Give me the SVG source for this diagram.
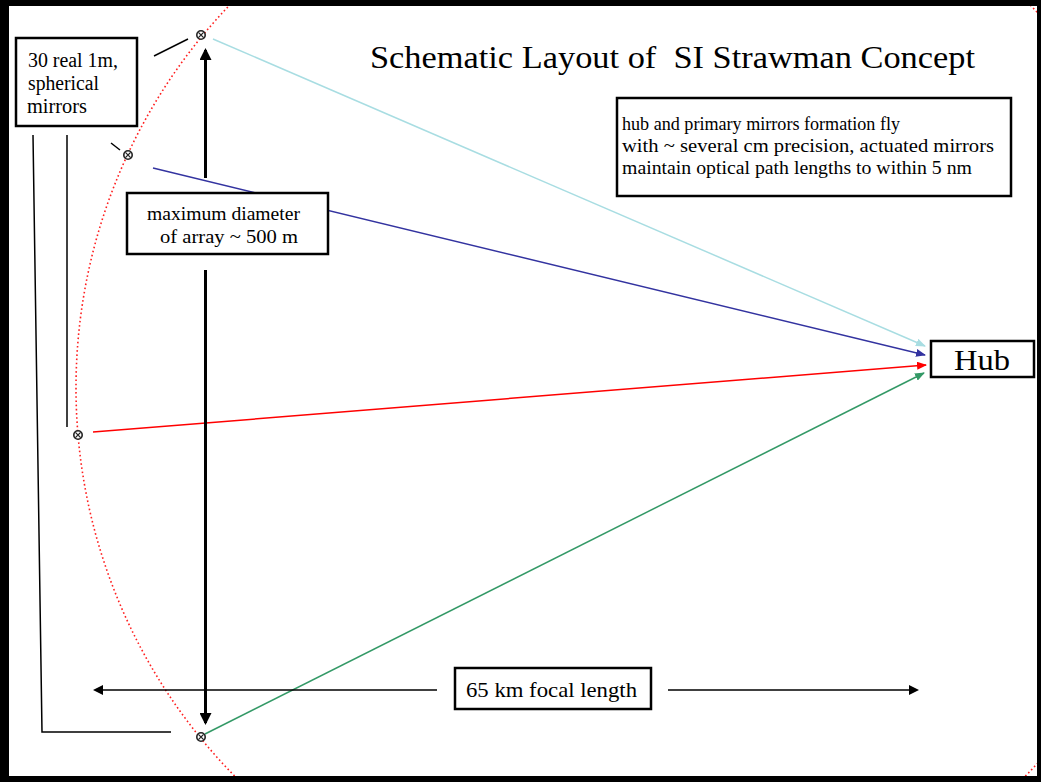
<svg xmlns="http://www.w3.org/2000/svg" width="1041" height="782" viewBox="0 0 1041 782">
<style>
.t{font-family:"Liberation Serif","Times New Roman",serif;fill:#000}
.box{fill:#fff;stroke:#000;stroke-width:2.5}
.thin{stroke:#000;stroke-width:1.5;fill:none}
.mir{fill:#fff;stroke:#222;stroke-width:1.6}
</style>
<defs>
<clipPath id="frame"><rect x="9" y="6" width="1028" height="770"/></clipPath>
<marker id="aK" markerWidth="10" markerHeight="10" refX="8" refY="5" orient="auto" markerUnits="userSpaceOnUse"><path d="M0,0 L10,5 L0,10 z" fill="#000"/></marker>
<marker id="aKb" markerWidth="12" markerHeight="12" refX="10" refY="6" orient="auto" markerUnits="userSpaceOnUse"><path d="M0,0 L12,6 L0,12 z" fill="#000"/></marker>
<marker id="aL" markerWidth="10" markerHeight="8" refX="9" refY="4" orient="auto" markerUnits="userSpaceOnUse"><path d="M0,0 L10,4 L0,8 z" fill="#a8dde2"/></marker>
<marker id="aB" markerWidth="10" markerHeight="8" refX="9" refY="4" orient="auto" markerUnits="userSpaceOnUse"><path d="M0,0 L10,4 L0,8 z" fill="#3333a0"/></marker>
<marker id="aR" markerWidth="10" markerHeight="8" refX="9" refY="4" orient="auto" markerUnits="userSpaceOnUse"><path d="M0,0 L10,4 L0,8 z" fill="#ff0000"/></marker>
<marker id="aG" markerWidth="10" markerHeight="8" refX="9" refY="4" orient="auto" markerUnits="userSpaceOnUse"><path d="M0,0 L10,4 L0,8 z" fill="#339966"/></marker>
<g id="mk"><circle r="4.2" class="mir"/><path d="M-2.6,-2.6 L2.6,2.6 M-2.6,2.6 L2.6,-2.6" stroke="#222" stroke-width="1.3"/></g>
</defs>
<rect x="0" y="0" width="1041" height="782" fill="#000"/>
<rect x="9" y="6" width="1028" height="770" fill="#fff"/>

<g id="focal-surface" clip-path="url(#frame)">
<circle cx="630" cy="388" r="554" fill="none" stroke="#ff2020" stroke-width="1.6" stroke-dasharray="1.6 2.6"/>
</g>

<g id="connectors">
<line x1="213" y1="39" x2="925" y2="346" stroke="#a8dde2" stroke-width="1.5" marker-end="url(#aL)"/>
<line x1="153" y1="168" x2="925" y2="355" stroke="#3333a0" stroke-width="1.5" marker-end="url(#aB)"/>
<line x1="93" y1="432" x2="926" y2="365" stroke="#ff0000" stroke-width="1.5" marker-end="url(#aR)"/>
<line x1="205" y1="734" x2="924" y2="373" stroke="#339966" stroke-width="1.5" marker-end="url(#aG)"/>
<line x1="205.5" y1="178" x2="205.5" y2="50" stroke="#000" stroke-width="3" marker-end="url(#aKb)"/>
<line x1="205.5" y1="270" x2="205.5" y2="723" stroke="#000" stroke-width="3" marker-end="url(#aKb)"/>
<line x1="437" y1="690" x2="95" y2="690" stroke="#000" stroke-width="1.5" marker-end="url(#aK)"/>
<line x1="668" y1="690" x2="917" y2="690" stroke="#000" stroke-width="1.5" marker-end="url(#aK)"/>
<line x1="154" y1="56" x2="188" y2="39" class="thin"/>
<line x1="111" y1="143" x2="120" y2="150" class="thin"/>
<polyline points="33,135 42,732 171,732" class="thin"/>
<line x1="67" y1="135" x2="67" y2="427" class="thin"/>
</g>

<g id="mirror-1"><use href="#mk" x="201" y="35"/></g>
<g id="mirror-2"><use href="#mk" x="128" y="155"/></g>
<g id="mirror-3"><use href="#mk" x="78" y="435"/></g>
<g id="mirror-4"><use href="#mk" x="201" y="737"/></g>

<g id="title"><text class="t" x="370" y="68" font-size="32" textLength="605" lengthAdjust="spacingAndGlyphs" xml:space="preserve">Schematic Layout of  SI Strawman Concept</text></g>

<g id="mirrors-label">
<rect class="box" x="16" y="38" width="121" height="88"/>
<text class="t" x="28" y="67" font-size="20" textLength="90" lengthAdjust="spacingAndGlyphs">30 real 1m,</text>
<text class="t" x="28" y="90" font-size="20" textLength="71" lengthAdjust="spacingAndGlyphs">spherical</text>
<text class="t" x="27" y="113" font-size="20" textLength="60" lengthAdjust="spacingAndGlyphs">mirrors</text>
</g>

<g id="diameter-label">
<rect class="box" x="127" y="193" width="201" height="61"/>
<text class="t" x="147" y="220" font-size="19" textLength="153" lengthAdjust="spacingAndGlyphs">maximum diameter</text>
<text class="t" x="160" y="243" font-size="19" textLength="138" lengthAdjust="spacingAndGlyphs">of array ~ 500 m</text>
</g>

<g id="formation-note">
<rect class="box" x="617" y="98" width="394" height="98"/>
<text class="t" x="622" y="130" font-size="19" textLength="278" lengthAdjust="spacingAndGlyphs">hub and primary mirrors formation fly</text>
<text class="t" x="622" y="152" font-size="19" textLength="372" lengthAdjust="spacingAndGlyphs">with ~ several cm precision, actuated mirrors</text>
<text class="t" x="622" y="174" font-size="19" textLength="350" lengthAdjust="spacingAndGlyphs">maintain optical path lengths to within 5 nm</text>
</g>

<g id="hub">
<rect class="box" x="931" y="341" width="103" height="36"/>
<text class="t" x="954" y="370" font-size="30" textLength="56" lengthAdjust="spacingAndGlyphs">Hub</text>
</g>

<g id="focal-length-label">
<rect class="box" x="455" y="668" width="196" height="41"/>
<text class="t" x="466" y="697" font-size="21" textLength="171" lengthAdjust="spacingAndGlyphs">65 km focal length</text>
</g>
</svg>
